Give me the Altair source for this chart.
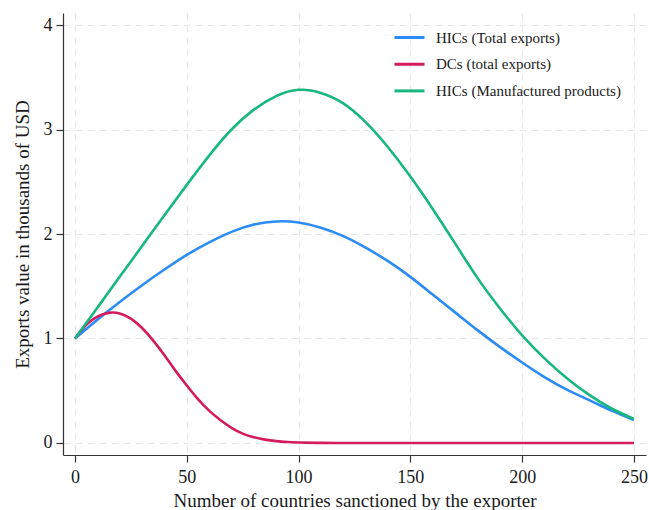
import altair as alt
import pandas as pd

# --- data ---
x_hic = [0, 10, 20, 30, 40, 50, 60, 70, 80, 90, 100, 110, 120, 130, 140, 150,
         160, 170, 180, 190, 200, 210, 220, 230, 240, 250]
hic_total = [1.00, 1.18, 1.35, 1.51, 1.66, 1.80, 1.92, 2.02, 2.09, 2.12, 2.11,
             2.06, 1.98, 1.87, 1.74, 1.59, 1.42, 1.25, 1.08, 0.92, 0.77, 0.63,
             0.51, 0.41, 0.31, 0.22]
hic_manuf = [1.00, 1.295, 1.59, 1.885, 2.18, 2.47, 2.75, 3.00, 3.19, 3.32, 3.38,
             3.35, 3.25, 3.07, 2.83, 2.55, 2.24, 1.91, 1.58, 1.29, 1.03, 0.81,
             0.62, 0.46, 0.33, 0.23]
x_dc = [0, 5, 10, 15, 20, 25, 30, 35, 40, 45, 50, 55, 60, 65, 70, 75, 80, 85,
        90, 95, 100, 110, 120, 130, 140, 150, 160, 170, 180, 190, 200, 210, 220,
        230, 240, 250]
dc_total = [1.00, 1.13, 1.21, 1.245, 1.24, 1.19, 1.10, 0.98, 0.84, 0.69, 0.55,
            0.42, 0.31, 0.22, 0.145, 0.09, 0.055, 0.032, 0.018, 0.009, 0.004,
            0.001, 0.0, 0.0, 0.0, 0.0, 0.0, 0.0, 0.0, 0.0, 0.0, 0.0, 0.0, 0.0,
            0.0, 0.0]

series_names = ["HICs (Total exports)", "DCs (total exports)", " HICs (Manufactured products)"]
series_colors = ["#2b8cf7", "#d41b5e", "#17b77e"]

rows = []
for xv, yv in zip(x_hic, hic_total):
    rows.append({"x": xv, "y": yv, "s": series_names[0]})
for xv, yv in zip(x_dc, dc_total):
    rows.append({"x": xv, "y": yv, "s": series_names[1]})
for xv, yv in zip(x_hic, hic_manuf):
    rows.append({"x": xv, "y": yv, "s": series_names[2]})
df = pd.DataFrame(rows)

FONT = "Liberation Serif"

x_enc = alt.X(
    "x:Q",
    scale=alt.Scale(domain=[-5.37, 255.4], nice=False, zero=False),
    axis=alt.Axis(
        values=[0, 50, 100, 150, 200, 250],
        title="Number of countries sanctioned by the exporter",
        tickSize=7,
        labelPadding=6,
        titlePadding=5,
    ),
)
y_enc = alt.Y(
    "y:Q",
    scale=alt.Scale(domain=[-0.115, 4.115], nice=False, zero=False),
    axis=alt.Axis(
        values=[0, 1, 2, 3, 4],
        title="Exports value in thousands of USD",
        tickSize=7,
        labelPadding=4,
        titlePadding=11,
    ),
)
color_enc = alt.Color(
    "s:N",
    scale=alt.Scale(domain=series_names, range=series_colors),
    legend=alt.Legend(
        title=None,
        orient="none",
        legendX=330,
        legendY=11.5,
        symbolType="stroke",
        symbolSize=900,
        symbolStrokeWidth=3,
        labelFont=FONT,
        labelFontSize=15,
        labelColor="#1a1a1a",
        labelOffset=10,
        labelLimit=400,
        clipHeight=26,
        rowPadding=0.7,
        padding=0,
    ),
)

chart = (
    alt.Chart(df)
    .mark_line(strokeWidth=2.6, interpolate="natural")
    .encode(x=x_enc, y=y_enc, color=color_enc)
    .properties(
        width=583,
        height=442,
        autosize=alt.AutoSizeParams(type="none"),
        padding={"left": 63, "top": 13, "right": 3, "bottom": 55},
        background="white",
    )
    .configure_view(stroke=None)
    .configure_axis(
        labelFont=FONT,
        titleFont=FONT,
        labelFontSize=18,
        titleFontSize=19,
        titleFontWeight="normal",
        labelColor="#1a1a1a",
        titleColor="#1a1a1a",
        domainColor="#333333",
        domainWidth=1.2,
        tickColor="#333333",
        tickWidth=1.2,
        grid=True,
        gridColor="#e8e8e8",
        gridDash=[7, 5],
        gridWidth=1.2,
    )
)

chart.save("out.html", embed_options={"renderer": "svg", "actions": False})
